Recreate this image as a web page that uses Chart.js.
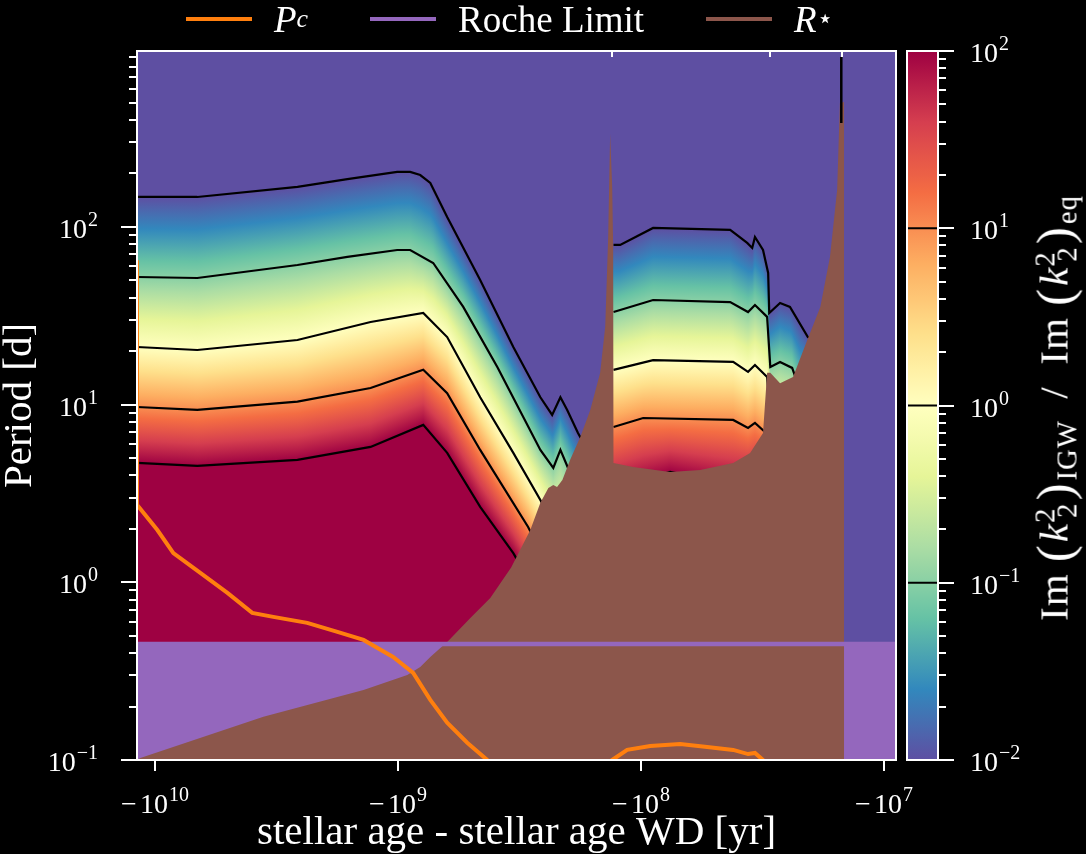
<!DOCTYPE html>
<html>
<head>
<meta charset="utf-8">
<script src="https://cdn.jsdelivr.net/npm/chart.js@4.4.1/dist/chart.umd.min.js"></script>
<style>
  html, body { margin: 0; background: #000; }
  #wrap { position: relative; width: 1086px; height: 854px; overflow: hidden;
          font-family: 'Liberation Serif', serif; color: #fff; }
  #main { position: absolute; left: 0; top: 0; }
  #cb { position: absolute; left: 880px; top: 0; }
  #legend { position: absolute; left: 186px; top: 0; height: 38px; display: flex;
            align-items: center; font-size: 37px; white-space: nowrap; }
  #legend .item { display: flex; align-items: center; margin-right: 62px; }
  #legend .swatch { display: inline-block; width: 66px; height: 4px; margin-right: 22px; }
  sub { font-size: 0.7em; vertical-align: -0.3em; line-height: 0; }
  sup { font-size: 0.7em; vertical-align: 0.45em; line-height: 0; }
  #cbTitle { position: absolute; left: 1054px; top: 408px; white-space: nowrap; font-size: 41px; line-height: 1;
             letter-spacing: 1px; transform: translate(-50%, -50%) rotate(-90deg); }
  #cbTitle .k { margin-left: -0.36em; }
  #cbTitle .par { font-size: 1.25em; line-height: 0; vertical-align: -0.08em; margin: 0 2px; }
</style>
</head>
<body>
<div id="wrap">
  <canvas id="main" width="1086" height="854"></canvas>
  <canvas id="cb" width="206" height="854"></canvas>
  <div id="legend"></div>
  <div id="cbTitle">Im&thinsp;<span class="par">(</span><i>k</i><sup>2</sup><sub class="k">2</sub><span class="par">)</span><sub>IGW</sub>&ensp;/&ensp;Im&thinsp;<span class="par">(</span><i>k</i><sup>2</sup><sub class="k">2</sub><span class="par">)</span><sub>eq</sub></div>
</div>
<script>
// axis limits
const ageRange = [-1.19e10, -8.93e6];      // stellar age - stellar age WD [yr]
const periodRange = [0.1, 978];            // period [d]
const ratioRange = [0.01, 100];            // colour bar
const xTickAges = [-1e10, -1e9, -1e8, -1e7];
const phaseAges = [-1.32e8, -2.94e7, -1.49e7];   // little ticks on the top spine
const contourLevels = [100, 10, 1, 0.1, 0.01];

// contours of Im(k2^2)_IGW / Im(k2^2)_eq as [age, period] pairs, main band
const band1e2 = [[-1.19e10,4.70],[-6.72e9,4.52],[-2.60e9,4.89],[-1.30e9,5.78],[-7.89e8,7.69],[-6.29e8,5.35],
  [-4.60e8,2.66],[-3.36e8,1.46],[-2.60e8,0.796],[-1.39e8,0.218]];
const band1e1 = [[-1.19e10,9.70],[-6.72e9,9.34],[-2.60e9,10.4],[-1.30e9,12.4],[-7.89e8,15.7],[-6.29e8,11.6],
  [-4.60e8,5.56],[-2.92e8,2.05],[-2.15e8,0.906],[-1.39e8,0.282]];
const band1e0 = [[-1.19e10,21.1],[-6.72e9,20.3],[-2.60e9,23.1],[-1.30e9,29.2],[-7.89e8,32.8],[-6.29e8,24.0],
  [-4.60e8,11.0],[-3.36e8,5.35],[-2.60e8,2.91],[-2.15e8,1.73],[-1.39e8,0.614]];
const band1em1 = [[-1.19e10,52.3],[-6.72e9,51.6],[-2.60e9,61.1],[-1.62e9,67.8],[-1.01e9,74.2],[-8.93e8,74.2],
  [-7.18e8,62.7],[-5.40e8,35.5],[-3.91e8,16.3],[-2.60e8,5.56],[-2.30e8,4.40],[-2.15e8,5.56],[-2.00e8,4.40],
  [-1.78e8,2.91],[-1.39e8,1.73]];
const band1em2 = [[-1.19e10,147.5],[-6.72e9,147.5],[-2.60e9,168],[-1.62e9,186],[-1.01e9,204],[-8.93e8,204],
  [-8.12e8,196],[-7.38e8,177],[-6.29e8,113.8],[-4.60e8,50.3],[-3.36e8,21.1],[-2.60e8,11.0],[-2.325e8,8.75],
  [-2.15e8,11.0],[-2.016e8,9.34],[-1.82e8,6.93],[-1.62e8,5.21],[-1.39e8,3.77]];

// same contours, island between the two R* spikes
const isle1e2 = [[-1.30e8,3.31],[-9.18e7,3.87],[-7.60e7,4.18],[-6.29e7,3.97],[-4.18e7,3.53],[-3.06e7,3.77],
  [-2.94e7,2.91],[-1.475e7,2.24]];
const isle1e1 = [[-1.30e8,7.49],[-9.81e7,8.41],[-4.18e7,8.20],[-3.63e7,7.40],[-3.40e7,7.89],[-3.06e7,6.93],
  [-2.94e7,4.89],[-1.475e7,4.29]];
const isle1e0 = [[-1.30e8,15.7],[-8.93e7,17.8],[-4.18e7,17.4],[-3.63e7,15.3],[-3.40e7,16.7],[-3.03e7,14.3],
  [-2.94e7,8.20],[-1.475e7,7.21]];
const isle1em1 = [[-1.30e8,33.2],[-1.22e8,34.1],[-8.93e7,38.8],[-4.30e7,37.8],[-3.63e7,33.2],[-3.40e7,36.4],
  [-3.03e7,31.2],[-2.94e7,16.3],[-2.68e7,17.4],[-2.39e7,16.1],[-2.22e7,12.1],[-1.475e7,10.6]];
const isle1em2 = [[-1.30e8,79.2],[-1.22e8,79.2],[-8.93e7,98.7],[-4.30e7,96.2],[-3.66e7,81.3],[-3.49e7,76.2],
  [-3.40e7,87.8],[-3.15e7,74.2],[-3.00e7,55.1],[-2.97e7,32.8],[-2.68e7,37.3],[-2.44e7,35.5],[-2.06e7,24.0],
  [-1.75e7,20.3],[-1.475e7,17.8]];

// short contour piece at the second spike
const spikeContour = [[-1.50e7,906],[-1.50e7,385]];

// R_star expressed as a period
const rStar = [[-1.19e10,0.100],[-1.153e10,0.1027],[-3.59e9,0.175],[-1.39e9,0.248],[-9.18e8,0.301],
  [-8.12e8,0.334],[-7.38e8,0.380],[-6.23e8,0.468],[-5.05e8,0.630],[-4.18e8,0.817],[-3.43e8,1.21],
  [-2.86e8,1.97],[-2.60e8,2.80],[-2.41e8,3.40],[-2.30e8,3.53],[-2.22e8,3.44],[-2.11e8,3.77],[-1.96e8,4.89],
  [-1.78e8,6.58],[-1.62e8,9.34],[-1.475e8,15.1],[-1.406e8,27.4],[-1.367e8,87.8],[-1.342e8,335],
  [-1.316e8,168],[-1.304e8,77.2],[-1.30e8,4.70],[-1.079e8,4.46],[-7.60e7,4.18],[-5.72e7,4.29],
  [-4.18e7,4.70],[-3.56e7,5.35],[-3.15e7,6.93],[-3.03e7,15.1],[-2.94e7,15.1],[-2.68e7,13.2],[-2.37e7,14.3],
  [-2.07e7,23.1],[-1.83e7,35.5],[-1.67e7,67.8],[-1.56e7,162],[-1.52e7,499],[-1.46e7,505]];

// critical period P_c (gap while it is below the axis)
const pcTrack = [[-1.19e10,65],[-1.19e10,2.73],[-9.81e9,1.97],[-8.43e9,1.46],[-6.53e9,1.13],[-5.05e9,0.872],
  [-3.99e9,0.673],[-3.27e9,0.639],[-2.37e9,0.591],[-1.78e9,0.526],[-1.39e9,0.474],[-1.05e9,0.380],
  [-8.68e8,0.309],[-7.38e8,0.218],[-6.29e8,0.162],[-5.20e8,0.125],[-4.30e8,0.100],[-3.91e8,0.09],
  [-2.0e8,null],
  [-1.406e8,0.094],[-1.316e8,0.100],[-1.142e8,0.114],[-9.18e7,0.120],[-6.91e7,0.123],[-5.35e7,0.1185],
  [-4.18e7,0.114],[-3.63e7,0.108],[-3.40e7,0.1096],[-3.15e7,0.100],[-2.94e7,0.093]];

const rocheLimit = 0.45;

const FONT = "'Liberation Serif', serif";
const SPECTRAL_R = ['#5e4fa2','#3288bd','#66c2a5','#abdda4','#e6f598','#ffffbf','#fee08b','#fdae61','#f46d43','#d53e4f','#9e0142'];
const CM = SPECTRAL_R.map(h => [1, 3, 5].map(i => parseInt(h.substr(i, 2), 16)));

function cmap(f) {
  f = Math.min(1, Math.max(0, f));
  const t = f * 10, i = Math.min(9, Math.floor(t)), u = t - i;
  const a = CM[i], b = CM[i + 1];
  return 'rgb(' + a.map((v, k) => Math.round(v + (b[k] - v) * u)).join(',') + ')';
}
const lr0 = Math.log10(ratioRange[0]), lr1 = Math.log10(ratioRange[1]);
const fracOf = lg => (lg - lr0) / (lr1 - lr0);

const isPow10 = v => Math.abs(Math.log10(v) - Math.round(Math.log10(v))) < 1e-6;
const isLogTick = v => {
  const e = Math.floor(Math.log10(v) + 1e-9), s = v / Math.pow(10, e);
  return Math.abs(s - Math.round(s)) < 1e-6;
};
const toXY = pairs => pairs.map(([age, p]) => ({ x: -age, y: p }));

// "10" with a raised exponent, like the mathtext tick labels
function drawPow(ctx, v, x, yc, align, neg) {
  const exp = String(Math.round(Math.log10(v))).replace('-', '\u2212');
  ctx.font = '28px ' + FONT;
  const wMinus = neg ? ctx.measureText('\u2212').width + 3 : 0;
  const wTen = ctx.measureText('10').width;
  ctx.font = '20px ' + FONT;
  const wExp = ctx.measureText(exp).width;
  const total = wMinus + wTen + 1 + wExp;
  let x0 = align === 'right' ? x - total : align === 'center' ? x - total / 2 : x;
  const base = yc + 9.5;
  ctx.fillStyle = '#fff';
  ctx.textAlign = 'left';
  ctx.textBaseline = 'alphabetic';
  ctx.font = '28px ' + FONT;
  if (neg) ctx.fillText('\u2212', x0, base);
  ctx.fillText('10', x0 + wMinus, base);
  ctx.font = '20px ' + FONT;
  ctx.fillText(exp, x0 + wMinus + wTen + 1, base - 12);
}

// datasets
const datasets = [];
const fields = [];
[[band1e2, band1e1, band1e0, band1em1, band1em2], [isle1e2, isle1e1, isle1e0, isle1em1, isle1em2]].forEach(group => {
  const idx = [];
  group.forEach(c => {
    idx.push(datasets.length);
    datasets.push({ label: 'contour', data: toXY(c), borderColor: '#000', borderWidth: 2.2, fill: false, order: 5 });
  });
  fields.push(idx);
});
datasets.push({ label: 'roche fill', data: toXY([[ageRange[0], rocheLimit], [ageRange[1], rocheLimit]]),
  borderWidth: 0, backgroundColor: '#9467bd', fill: 'start', order: 4 });
datasets.push({ label: 'R_⋆', data: toXY(rStar), borderWidth: 0, borderColor: '#8c564b',
  backgroundColor: '#8c564b', fill: 'start', order: 3 });
datasets.push({ label: 'Roche Limit', data: toXY([[ageRange[0], rocheLimit], [ageRange[1], rocheLimit]]),
  borderColor: '#9467bd', borderWidth: 4.5, fill: false, order: 2 });
datasets.push({ label: 'contour', data: toXY(spikeContour), borderColor: '#000', borderWidth: 2.5, fill: false, order: 1 });
datasets.push({ label: 'P_c', data: toXY(pcTrack), borderColor: '#ff7f0e', borderWidth: 4, fill: false,
  spanGaps: false, order: 0 });

function yAt(l, x) {
  if (x <= l[0][0]) return l[0][1];
  for (let i = 1; i < l.length; i++) {
    if (x <= l[i][0]) {
      const [xa, ya] = l[i - 1], [xb, yb] = l[i];
      return xb === xa ? yb : ya + (yb - ya) * (x - xa) / (xb - xa);
    }
  }
  return l[l.length - 1][1];
}

// colour field between the contour lines, column by column
const heatmap = {
  id: 'heatmap',
  beforeDatasetsDraw(chart) {
    const { ctx, chartArea: a } = chart;
    ctx.save();
    ctx.beginPath(); ctx.rect(a.left, a.top, a.width, a.height); ctx.clip();
    ctx.fillStyle = cmap(0);
    ctx.fillRect(a.left, a.top, a.width, a.height);
    const lg = contourLevels.map(Math.log10);
    fields.forEach(idx => {
      const lines = idx.map(i => chart.getDatasetMeta(i).data.map(p => [p.x, p.y]));
      const x0 = Math.max(...lines.map(l => l[0][0]));
      const x1 = Math.min(...lines.map(l => l[l.length - 1][0]));
      for (let x = Math.floor(x0); x < x1; x++) {
        const ys = lines.map(l => yAt(l, x + 0.5));
        const bottom = ys[0], top = ys[ys.length - 1], span = bottom - top;
        if (span < 0.5) { ctx.fillStyle = cmap(fracOf(lg[0])); ctx.fillRect(x, top, 1, a.bottom - top); continue; }
        const g = ctx.createLinearGradient(0, bottom, 0, top);
        for (let k = 0; k < ys.length - 1; k++) {
          for (let s = 0; s < 5; s++) {
            const u = s / 5;
            const yk = ys[k] + (ys[k + 1] - ys[k]) * u;
            const off = Math.min(1, Math.max(0, (bottom - yk) / span));
            g.addColorStop(off, cmap(fracOf(lg[k] + (lg[k + 1] - lg[k]) * u)));
          }
        }
        g.addColorStop(1, cmap(fracOf(lg[lg.length - 1])));
        ctx.fillStyle = g;
        ctx.fillRect(x, top, 1, a.bottom - top);
      }
    });
    ctx.restore();
  }
};

function line(ctx, x0, y0, x1, y1) { ctx.beginPath(); ctx.moveTo(x0, y0); ctx.lineTo(x1, y1); ctx.stroke(); }

const frame = {
  id: 'frame',
  afterDraw(chart) {
    const { ctx, chartArea: a, scales: { x, y } } = chart;
    ctx.save();
    ctx.strokeStyle = '#fff';
    ctx.lineWidth = 2;
    y.ticks.forEach(t => {
      if (!isLogTick(t.value)) return;
      const py = Math.round(y.getPixelForValue(t.value));
      const major = isPow10(t.value);
      line(ctx, a.left - (major ? 16 : 8), py, a.left, py);
      if (major) drawPow(ctx, t.value, 98, py + 1, 'right', false);
    });
    x.ticks.forEach(t => {
      const px = Math.round(x.getPixelForValue(t.value));
      line(ctx, px, a.bottom, px, a.bottom + 11);
      drawPow(ctx, t.value, px, 803, 'center', true);
    });
    phaseAges.forEach(v => {
      const px = Math.round(x.getPixelForValue(-v));
      line(ctx, px, a.top, px, a.top + 6);
    });
    ctx.strokeRect(a.left, a.top, a.width, a.height);
    ctx.restore();
  }
};

const mainChart = new Chart(document.getElementById('main'), {
  type: 'line',
  data: { datasets },
  options: {
    responsive: false,
    animation: false,
    events: [],
    layout: { padding: { left: 0, top: 51, right: 190, bottom: 0 } },
    elements: { point: { radius: 0 }, line: { tension: 0 } },
    plugins: { legend: { display: false }, tooltip: { enabled: false } },
    scales: {
      x: {
        type: 'logarithmic', reverse: true,
        min: -ageRange[1], max: -ageRange[0],
        grid: { display: false, drawTicks: false }, border: { display: false },
        afterBuildTicks: s => { s.ticks = xTickAges.map(v => ({ value: -v })); },
        afterFit: s => { s.height = 94; },
        ticks: { display: false },
        title: { display: true, text: 'stellar age - stellar age WD [yr]', color: '#fff',
                 font: { family: FONT, size: 41, lineHeight: 1 }, padding: 0 }
      },
      y: {
        type: 'logarithmic',
        min: periodRange[0], max: periodRange[1],
        grid: { display: false, drawTicks: false }, border: { display: false },
        afterFit: s => { s.width = 137; },
        ticks: { display: false, autoSkip: false },
        title: { display: true, text: 'Period [d]', color: '#fff',
                 font: { family: FONT, size: 41, lineHeight: 1 }, padding: 0 }
      }
    }
  },
  plugins: [heatmap, frame]
});

// colour bar
const cbDecor = {
  id: 'cbDecor',
  afterDraw(chart) {
    const { ctx, chartArea: a, scales: { y } } = chart;
    ctx.save();
    ctx.strokeStyle = '#000';
    ctx.lineWidth = 2;
    contourLevels.filter(v => v > ratioRange[0] && v < ratioRange[1]).forEach(v => {
      const py = y.getPixelForValue(v);
      line(ctx, a.left, py, a.right, py);
    });
    ctx.strokeStyle = '#fff';
    ctx.lineWidth = 2;
    y.ticks.forEach(t => {
      if (!isLogTick(t.value)) return;
      const py = Math.round(y.getPixelForValue(t.value));
      const major = isPow10(t.value);
      line(ctx, a.right, py, a.right + (major ? 16 : 8), py);
      if (major) drawPow(ctx, t.value, a.right + 32, py + 1, 'left', false);
    });
    ctx.strokeRect(a.left, a.top, a.width, a.height);
    ctx.restore();
  }
};

function cbGradient(chart) {
  const a = chart.chartArea;
  if (!a) return cmap(0.5);
  const g = chart.ctx.createLinearGradient(0, a.bottom, 0, a.top);
  for (let i = 0; i <= 40; i++) g.addColorStop(i / 40, cmap(i / 40));
  return g;
}

new Chart(document.getElementById('cb'), {
  type: 'bar',
  data: { labels: [''], datasets: [{ data: [ratioRange], backgroundColor: ctx => cbGradient(ctx.chart),
    borderWidth: 0, barPercentage: 1, categoryPercentage: 1 }] },
  options: {
    responsive: false,
    animation: false,
    events: [],
    layout: { padding: { left: 27, top: 51, bottom: 94, right: 0 } },
    plugins: { legend: { display: false }, tooltip: { enabled: false } },
    scales: {
      x: { display: false },
      y: {
        type: 'logarithmic', position: 'right',
        min: ratioRange[0], max: ratioRange[1],
        grid: { display: false, drawTicks: false }, border: { display: false },
        afterFit: s => { s.width = 148; },
        ticks: { display: false, autoSkip: false }
      }
    }
  },
  plugins: [cbDecor]
});

// legend with the math labels
const legendMarkup = {
  'P_c': '<i>P</i><sub><i>c</i></sub>',
  'Roche Limit': 'Roche Limit',
  'R_⋆': '<i>R</i><sub>⋆</sub>'
};
document.getElementById('legend').innerHTML = ['P_c', 'Roche Limit', 'R_⋆'].map(lbl => {
  const ds = mainChart.data.datasets.find(d => d.label === lbl);
  return '<span class="item"><span class="swatch" style="background:' + ds.borderColor + '"></span>' +
         legendMarkup[lbl] + '</span>';
}).join('');
</script>
</body>
</html>
